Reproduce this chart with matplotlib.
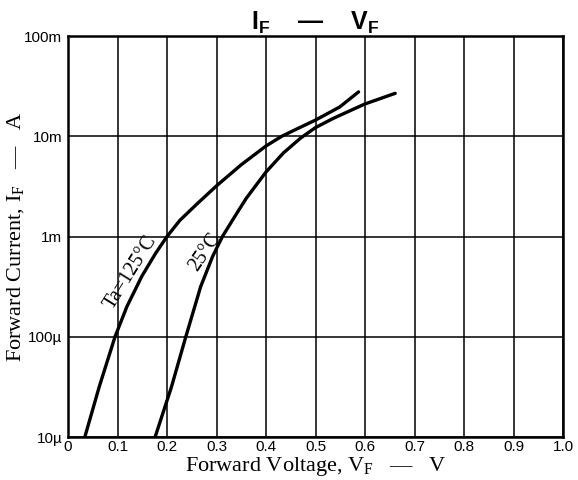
import matplotlib
matplotlib.use("Agg")
import matplotlib.pyplot as plt

# forward voltage (V) and forward current (A)
vf_125 = [0.034, 0.063, 0.095, 0.119, 0.149, 0.177, 0.200, 0.226, 0.260, 0.300,
          0.350, 0.400, 0.432, 0.465, 0.500, 0.549, 0.587]
if_125 = [10e-6, 31.6e-6, 100e-6, 200e-6, 400e-6, 680e-6, 1.0e-3, 1.45e-3, 2.1e-3, 3.2e-3,
          5.2e-3, 8.0e-3, 10e-3, 12e-3, 14.5e-3, 19.6e-3, 27.7e-3]

vf_25 = [0.176, 0.209, 0.238, 0.268, 0.292, 0.312, 0.334, 0.360, 0.400, 0.435,
         0.470, 0.500, 0.535, 0.570, 0.600, 0.661]
if_25 = [10e-6, 31.6e-6, 100e-6, 316e-6, 630e-6, 1e-3, 1.5e-3, 2.4e-3, 4.4e-3, 6.8e-3,
         9.6e-3, 12.2e-3, 15e-3, 18e-3, 21e-3, 26.8e-3]

x_ticks = [0, 0.1, 0.2, 0.3, 0.4, 0.5, 0.6, 0.7, 0.8, 0.9, 1.0]
x_labels = ['0', '0.1', '0.2', '0.3', '0.4', '0.5', '0.6', '0.7', '0.8', '0.9', '1.0']
y_ticks = [10e-6, 100e-6, 1e-3, 10e-3, 100e-3]
y_labels = ['10µ', '100µ', '1m', '10m', '100m']

plt.rcParams['mathtext.fontset'] = 'custom'
plt.rcParams['mathtext.rm'] = 'Liberation Serif'
plt.rcParams['mathtext.it'] = 'Liberation Serif:italic'
plt.rcParams['mathtext.bf'] = 'Liberation Sans:bold'

fig = plt.figure(figsize=(5.78, 4.8), dpi=100)
ax = fig.add_axes([68 / 578, 43 / 480, 495 / 578, 401 / 480])

ax.plot(vf_125, if_125, color='black', linewidth=2.4, solid_joinstyle='round', solid_capstyle='round')
ax.plot(vf_25, if_25, color='black', linewidth=2.4, solid_joinstyle='round', solid_capstyle='round')

ax.set_yscale('log')
ax.set_xlim(0, 1.0)
ax.set_ylim(10e-6, 100e-3)
ax.set_xticks(x_ticks)
ax.set_xticklabels(x_labels, fontfamily='Liberation Sans', fontsize=11)
ax.set_yticks(y_ticks)
ax.set_yticklabels(y_labels, fontfamily='Liberation Sans', fontsize=11)
ax.minorticks_off()
ax.tick_params(length=0, pad=2)
ax.tick_params(axis='y', pad=4)
ax.grid(True, color='black', linewidth=1.1)
for s in ax.spines.values():
    s.set_linewidth(1.8)

ax.set_xlabel('Forward Voltage, V$_{\\mathrm{F}}$   —   V', fontfamily='Liberation Serif',
              fontsize=16, labelpad=1)
ax.set_ylabel('Forward Current, I$_{\\mathrm{F}}$   —   A', fontfamily='Liberation Serif',
              fontsize=16, labelpad=-1)
ax.set_title('$\\mathbf{I_F}$    —    $\\mathbf{V_F}$', fontfamily='Liberation Sans',
             fontweight='bold', fontsize=18, pad=3)

ax.text(0.127, 4.4e-4, 'Ta=125°C', rotation=58, fontfamily='Liberation Serif', fontsize=14.5,
        ha='center', va='center')
ax.text(0.277, 7.0e-4, '25°C', rotation=56, fontfamily='Liberation Serif', fontsize=14.5,
        ha='center', va='center')

fig.savefig('out.png', dpi=100)
